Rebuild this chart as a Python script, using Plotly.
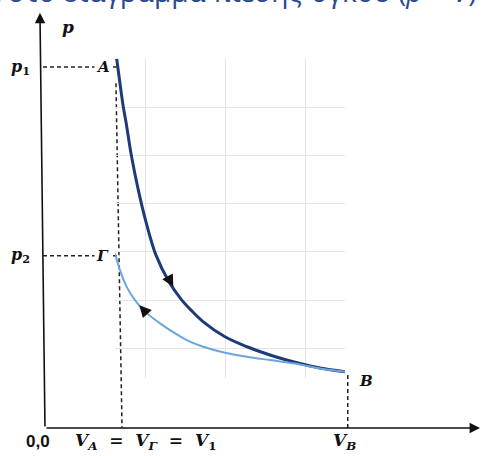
import plotly.graph_objects as go

# ---- data (inner Excel-style chart coordinates) ----
dark_V = [0.646, 0.696, 0.729, 0.7625, 0.829, 0.9125, 1.0125, 1.1375, 1.3, 1.45, 1.575, 1.725, 2.0, 2.275, 2.5625, 2.9125, 3.1875, 3.5]
dark_p = [7.004, 6.383, 6.002, 5.692, 5.002, 4.313, 3.621, 2.932, 2.379, 2.021, 1.793, 1.555, 1.240, 1.033, 0.861, 0.696, 0.592, 0.516]

light_V = [0.625, 0.6875, 0.771, 0.875, 0.979, 1.1875, 1.3125, 1.521, 1.729, 2.0, 2.271, 2.5625, 2.9125, 3.1875, 3.5]
light_p = [2.967, 2.621, 2.275, 2.0, 1.793, 1.518, 1.379, 1.172, 1.033, 0.909, 0.826, 0.756, 0.675, 0.582, 0.516]

# ---- outer diagram values ----
V1 = 1.0
VB = 4.0
p1 = 10.0
p2 = 4.77

title_text = "ι στο διάγραμμα πίεσης-όγκου (<i>p</i> − <i>V</i>)"
label_p = "<b><i>p</i></b>"
label_p1 = "<b><i>p</i><sub>1</sub></b>"
label_p2 = "<b><i>p</i><sub>2</sub></b>"
label_A = "<b><i>A</i></b>"
label_G = "<b><i>Γ</i></b>"
label_B = "<b><i>B</i></b>"
label_origin = "<b>0,0</b>"
label_V1 = ("<b><i>V</i><sub><i>A</i></sub>&nbsp; = &nbsp;<i>V</i><sub><i>Γ</i></sub>"
            "&nbsp; = &nbsp;<i>V</i><sub>1</sub></b>")
label_VB = "<b><i>V</i><sub><i>B</i></sub></b>"
label_V = "<b><i>V</i></b>"

W, H = 487, 456
# outer axes: x pixel = 43 + V*76 ; y pixel = 428 - p*36.1
x_range = [-43 / 76, (W - 43) / 76]
y_range = [(428 - H) / 36.1, 428 / 36.1]

DARK = "#1E3A78"
LIGHT = "#6AA6DE"
INK = "#111111"
SERIF = "DejaVu Serif"

fig = go.Figure()

fig.add_trace(go.Scatter(x=dark_V, y=dark_p, mode="lines", xaxis="x2", yaxis="y2",
                         line=dict(color=DARK, width=3, shape="spline", smoothing=1.0),
                         showlegend=False, hoverinfo="skip"))
fig.add_trace(go.Scatter(x=light_V, y=light_p, mode="lines", xaxis="x2", yaxis="y2",
                         line=dict(color=LIGHT, width=2, shape="spline", smoothing=1.0),
                         showlegend=False, hoverinfo="skip"))

dash = dict(color="#222222", width=1.5, dash="4px,3px")
def seg(xs, ys):
    fig.add_trace(go.Scatter(x=xs, y=ys, mode="lines", line=dash,
                             showlegend=False, hoverinfo="skip"))
seg([0, V1 - 0.03], [p1, p1])
seg([0, V1 - 0.03], [p2, p2])
seg([V1 - 0.04, V1 + 0.04], [p1 - 0.45, 0])
seg([VB + 0.01, VB + 0.01], [1.47, 0])

ann = []
# axis arrows
ann.append(dict(x=-0.04, y=11.5, ax=0.026, ay=0, xref="x", yref="y", axref="x", ayref="y",
                showarrow=True, arrowhead=2, arrowsize=1.3, arrowwidth=1.6,
                arrowcolor=INK, text=""))
ann.append(dict(x=5.75, y=0, ax=0.026, ay=0, xref="x", yref="y", axref="x", ayref="y",
                showarrow=True, arrowhead=2, arrowsize=1.3, arrowwidth=1.6,
                arrowcolor=INK, text=""))
# direction arrows on the curves
ann.append(dict(x=1.354, y=2.275, ax=-6, ay=-11, xref="x2", yref="y2",
                showarrow=True, arrowhead=2, arrowsize=1.2, arrowwidth=2,
                arrowcolor=INK, text=""))
ann.append(dict(x=0.929, y=1.896, ax=9, ay=10, xref="x2", yref="y2",
                showarrow=True, arrowhead=2, arrowsize=1.2, arrowwidth=2,
                arrowcolor=INK, text=""))

def lab(x, y, t, xa="center", size=16, bg=None, family=SERIF):
    d = dict(x=x, y=y, xref="x", yref="y", text=t, showarrow=False, xanchor=xa,
             yanchor="middle", font=dict(family=family, size=size, color=INK))
    if bg:
        d["bgcolor"] = bg
    return d

ann.append(lab(0.33, 11.1, label_p, size=17))
ann.append(lab(-0.29, p1, label_p1, size=16))
ann.append(lab(-0.29, p2, label_p2, size=16))
ann.append(lab(0.79, p1, label_A, size=15, bg="white"))
ann.append(lab(0.78, p2, label_G, size=15, bg="white"))
ann.append(lab(4.25, 1.30, label_B, size=15))
ann.append(lab(-0.06, -0.36, label_origin, size=17, family="Liberation Sans"))
ann.append(lab(0.39, -0.36, label_V1, xa="left", size=17))
ann.append(lab(VB - 0.03, -0.36, label_VB, size=17))
ann.append(lab(5.86, -0.36, label_V, size=17))

# cut-off heading at the very top
ann.append(dict(x=479 / W, y=1 - 12 / H, xref="paper", yref="paper", text=title_text,
                showarrow=False, xanchor="right", yanchor="bottom",
                font=dict(family="Open Sans", size=28, color="#2A4A8E")))

fig.update_layout(
    width=W, height=H, margin=dict(l=0, r=0, t=0, b=0),
    paper_bgcolor="white", plot_bgcolor="rgba(0,0,0,0)",
    xaxis=dict(range=x_range, visible=False, domain=[0, 1], fixedrange=True),
    yaxis=dict(range=y_range, visible=False, domain=[0, 1], fixedrange=True),
    xaxis2=dict(domain=[115 / W, 345 / W], anchor="y2", range=[0.625, 3.5], tick0=0, dtick=1,
                showgrid=True, gridcolor="#E4E4E4", gridwidth=1, showticklabels=False,
                zeroline=False, showline=False, ticks=""),
    yaxis2=dict(domain=[1 - 378 / H, 1 - 58.5 / H], anchor="x2", range=[0.385, 7.01], tick0=0, dtick=1,
                showgrid=True, gridcolor="#E4E4E4", gridwidth=1, showticklabels=False,
                zeroline=False, showline=False, ticks=""),
    annotations=ann,
)

fig.write_html("out.html", config={"displayModeBar": False},
               post_script="document.body.style.margin='0';document.body.style.overflow='hidden';")
